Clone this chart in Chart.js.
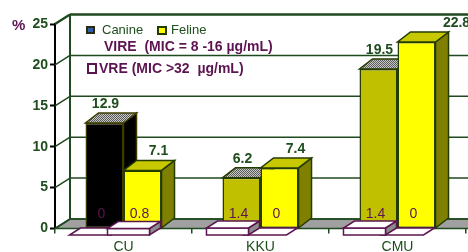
<!DOCTYPE html>
<html><head><meta charset="utf-8">
<script src="https://cdn.jsdelivr.net/npm/chart.js@4"></script>
<style>html,body{margin:0;padding:0;background:#fff;overflow:hidden}canvas{display:block}</style>
</head><body>
<canvas id="c" width="468" height="252"></canvas>
<script>
// ---- data ----
const categories = ['CU', 'KKU', 'CMU'];
const seriesNames = ['Canine', 'Feline'];
const canineVIRE = [12.9, 6.2, 19.5];
const felineVIRE = [7.1, 7.4, 22.8];
const canineVRE = [0, 1.4, 1.4];
const felineVRE = [0.8, 0, 0];
const yTicks = [0, 5, 10, 15, 20, 25];
const legendVIRE = 'VIRE  (MIC = 8 -16 \u00b5g/mL)';
const legendVRE = 'VRE (MIC >32  \u00b5g/mL)';
const axisUnit = '%';

// ---- styles ----
const FONT = '"Liberation Sans", Arial, Helvetica, sans-serif';
const GREEN = '#1e4d1e';
const GRID = '#1f4a1f';
const PURPLE = '#5c1450';
const OUTLINE = '#243c00';
const canineFront = ['#000000', '#c0c000', '#c0c000'];
const canineSide = ['#000000', '#808000', '#808000'];
const felineFront = '#ffff00';
const felineTop = '#c8c800';
const felineSide = '#808000';

function checker() {
  const c = document.createElement('canvas'); c.width = 2; c.height = 2;
  const x = c.getContext('2d');
  x.fillStyle = '#c8c8c8'; x.fillRect(0, 0, 2, 2);
  x.fillStyle = '#5a5a5a'; x.fillRect(0, 0, 1, 1); x.fillRect(1, 1, 1, 1);
  return c;
}

function poly(ctx, pts, fill, stroke, lw) {
  ctx.beginPath();
  ctx.moveTo(pts[0][0], pts[0][1]);
  for (let i = 1; i < pts.length; i++) ctx.lineTo(pts[i][0], pts[i][1]);
  ctx.closePath();
  if (fill) { ctx.fillStyle = fill; ctx.fill(); }
  if (stroke) { ctx.strokeStyle = stroke; ctx.lineWidth = lw || 1.5; ctx.stroke(); }
}

const WDX = 15, WDY = -9.5;   // wall depth
const BDX = 13, BDY = -10;    // bar depth
const SDX = 11, SDY = -7;     // slab depth

const threeD = {
  id: 'threeD',
  beforeDatasetsDraw(chart) {
    const { ctx, chartArea: { left, right, bottom }, scales: { y } } = chart;
    ctx.save();
    // floor
    poly(ctx, [[left, bottom], [right + 60, bottom], [right + 60, bottom + WDY], [left + WDX, bottom + WDY]], '#a0a0a0', GRID, 1.5);
    // back wall grid lines & left side diagonals
    yTicks.forEach(v => {
      const yy = y.getPixelForValue(v);
      ctx.strokeStyle = GRID;
      ctx.lineWidth = v === 25 ? 2.5 : 1.5;
      ctx.beginPath();
      ctx.moveTo(left + WDX, yy + WDY); ctx.lineTo(right + 60, yy + WDY);
      ctx.moveTo(left, yy); ctx.lineTo(left + WDX, yy + WDY);
      ctx.stroke();
    });
    ctx.lineWidth = 2;
    ctx.beginPath();
    ctx.moveTo(left + WDX, y.getPixelForValue(25) + WDY);
    ctx.lineTo(left + WDX, y.getPixelForValue(0) + WDY);
    ctx.stroke();
    // bar side & top faces
    const pat = ctx.createPattern(checker(), 'repeat');
    for (let i = 0; i < categories.length; i++) {
      for (let d = 0; d < 2; d++) {
        const p = chart.getDatasetMeta(d).data[i].getProps(['x', 'y', 'base', 'width'], true);
        const L = p.x - p.width / 2, R = p.x + p.width / 2, T = p.y, B = p.base;
        const side = d === 0 ? canineSide[i] : felineSide;
        const top = d === 0 ? pat : felineTop;
        const oc = d === 0 && i === 0 ? '#3c3c00' : OUTLINE;
        poly(ctx, [[R, T], [R + BDX, T + BDY], [R + BDX, B + BDY], [R, B]], side, oc, 1.5);
        poly(ctx, [[L, T], [R, T], [R + BDX, T + BDY], [L + BDX, T + BDY]], top, oc, 1.5);
      }
    }
    ctx.restore();
  },
  afterDatasetsDraw(chart) {
    const { ctx, scales: { y } } = chart;
    ctx.save();
    const vre = [canineVRE, felineVRE];
    const vire = [canineVIRE, felineVIRE];
    const labelDX = [[1, 1, 1], [16, 16, 40]];
    ctx.textAlign = 'center'; ctx.textBaseline = 'middle';
    const slabs = [];
    for (let i = 0; i < categories.length; i++) {
      for (let d = 0; d < 2; d++) {
        const p = chart.getDatasetMeta(d).data[i].getProps(['x', 'y', 'base', 'width'], true);
        ctx.font = 'bold 14px ' + FONT;
        ctx.fillStyle = GREEN;
        ctx.fillText(String(vire[d][i]), p.x + labelDX[d][i], p.y - 19);
        ctx.font = '14px ' + FONT;
        ctx.fillStyle = PURPLE;
        ctx.fillText(String(vre[d][i]), p.x - 3, p.base - 14);
        const v = vre[d][i];
        const h = v > 0 ? Math.min(7, y.getPixelForValue(0) - y.getPixelForValue(v)) : 0;
        slabs.push({ L: p.x - p.width / 2 - 16, R: p.x + p.width / 2 - 12, yb: p.base + 7, h });
      }
    }
    // VRE slabs (flat ones first)
    slabs.sort((a, b) => a.h - b.h).forEach(s => {
      const t = s.yb - s.h;
      if (s.h > 0) {
        poly(ctx, [[s.R, t], [s.R + SDX, t + SDY], [s.R + SDX, s.yb + SDY], [s.R, s.yb]], '#8c8c8c', PURPLE, 1.5);
        poly(ctx, [[s.L, t], [s.R, t], [s.R, s.yb], [s.L, s.yb]], '#ffffff', PURPLE, 1.5);
      }
      poly(ctx, [[s.L, t], [s.R, t], [s.R + SDX, t + SDY], [s.L + SDX, t + SDY]], '#ffffff', PURPLE, 1.5);
    });
    // legend
    ctx.textAlign = 'left';
    poly(ctx, [[86, 26], [95, 26], [95, 34], [86, 34]], '#2a2a10', null);
    poly(ctx, [[88, 28], [93, 28], [93, 32], [88, 32]], '#2f5fa8', null);
    poly(ctx, [[158, 27], [166, 27], [166, 34], [158, 34]], felineFront, OUTLINE, 2);
    poly(ctx, [[88, 64], [96, 64], [96, 73], [88, 73]], '#ffffff', PURPLE, 2);
    ctx.font = '13px ' + FONT; ctx.fillStyle = GREEN;
    ctx.fillText(seriesNames[0], 102, 30.5);
    ctx.fillText(seriesNames[1], 171, 30.5);
    ctx.font = 'bold 14px ' + FONT; ctx.fillStyle = PURPLE;
    ctx.fillText(legendVIRE, 104, 47.5);
    ctx.fillText(legendVRE, 99, 69);
    // unit
    ctx.font = 'bold 15px ' + FONT; ctx.fillStyle = PURPLE;
    ctx.fillText(axisUnit, 12, 26);
    ctx.restore();
  }
};

new Chart(document.getElementById('c'), {
  type: 'bar',
  data: {
    labels: categories,
    datasets: [
      { label: seriesNames[0], data: canineVIRE, backgroundColor: canineFront,
        borderColor: ['#3c3c00', OUTLINE, OUTLINE], borderWidth: 1.5, borderSkipped: false },
      { label: seriesNames[1], data: felineVIRE, backgroundColor: felineFront,
        borderColor: OUTLINE, borderWidth: 1.5, borderSkipped: false }
    ]
  },
  options: {
    responsive: false,
    animation: false,
    devicePixelRatio: 1,
    layout: { padding: { top: 24, right: 2, bottom: 0, left: 0 } },
    datasets: { bar: { categoryPercentage: 0.555, barPercentage: 1 } },
    plugins: { legend: { display: false }, tooltip: { enabled: false } },
    scales: {
      x: {
        grid: { offset: true, drawOnChartArea: false, drawTicks: true, tickLength: 5, color: GRID, lineWidth: 1.5 },
        border: { display: false },
        ticks: { color: GREEN, font: { family: FONT, size: 14 }, padding: 5, maxRotation: 0 },
        afterFit(s) { s.height = 23.5; }
      },
      y: {
        min: 0, max: 25,
        afterBuildTicks(s) { s.ticks = yTicks.map(v => ({ value: v })); },
        grid: { drawOnChartArea: false, drawTicks: true, tickLength: 5, tickColor: '#000', tickWidth: 2, color: '#000' },
        border: { display: true, color: '#000', width: 2 },
        ticks: { color: GREEN, font: { family: FONT, size: 14, weight: 'bold' }, padding: 2 },
        afterFit(s) { s.width = 55; }
      }
    }
  },
  plugins: [threeD]
});
</script>
</body></html>
